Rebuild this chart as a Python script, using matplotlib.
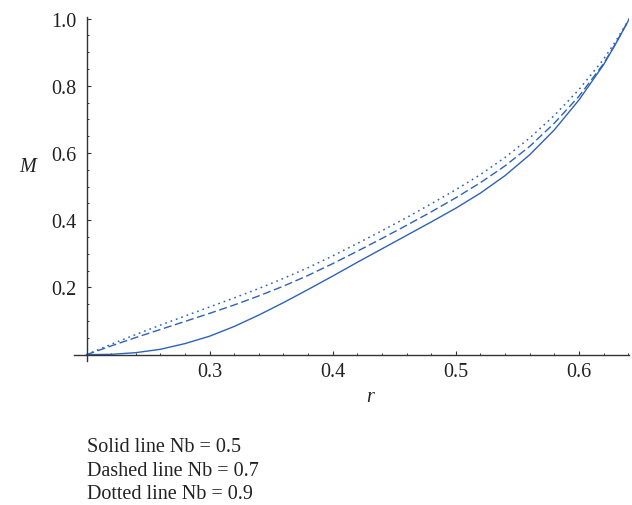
import numpy as np
import matplotlib
matplotlib.use("Agg")
import matplotlib.pyplot as plt

# r values along the curves
r = [0.20, 0.22, 0.24, 0.26, 0.28, 0.30, 0.32, 0.34, 0.36, 0.38, 0.40,
     0.42, 0.44, 0.46, 0.48, 0.50, 0.52, 0.54, 0.56, 0.58, 0.60, 0.62, 0.63, 0.641]

# Nb = 0.5 (solid)
m_solid = [0.000, 0.001, 0.006, 0.016, 0.033, 0.055, 0.084, 0.118, 0.155, 0.194, 0.234,
           0.275, 0.315, 0.355, 0.395, 0.436, 0.481, 0.533, 0.595, 0.669, 0.758, 0.863, 0.926, 1.000]
# Nb = 0.7 (dashed)
m_dashed = [0.000, 0.026, 0.051, 0.075, 0.099, 0.123, 0.148, 0.175, 0.204, 0.236, 0.271,
            0.308, 0.346, 0.385, 0.425, 0.467, 0.512, 0.562, 0.620, 0.689, 0.769, 0.866, 0.927, 1.000]
# Nb = 0.9 (dotted)
m_dotted = [0.000, 0.031, 0.060, 0.088, 0.115, 0.142, 0.169, 0.197, 0.227, 0.259, 0.294,
            0.331, 0.369, 0.408, 0.449, 0.491, 0.536, 0.587, 0.645, 0.712, 0.789, 0.879, 0.934, 1.000]

xticks = [0.3, 0.4, 0.5, 0.6]
yticks = [0.2, 0.4, 0.6, 0.8, 1.0]
notes = ["Solid line Nb = 0.5", "Dashed line Nb = 0.7", "Dotted line Nb = 0.9"]

plt.rcParams['font.family'] = ['Liberation Serif', 'DejaVu Serif']

fig = plt.figure(figsize=(6.32, 5.06), dpi=100)
ax = fig.add_axes([0.1174, 0.2838, 0.8785, 0.6806])

blue = '#2d62b8'
ax.plot(r, m_solid, color=blue, lw=1.0)
ax.plot(r, m_dashed, color=blue, lw=1.0, dashes=(5.8, 2.6))
ax.plot(r, m_dotted, color=blue, lw=1.1, dashes=(1.1, 2.6))

ax.set_xlim(0.19, 0.641)
ax.set_ylim(-0.02, 1.005)

for s in ['top', 'right']:
    ax.spines[s].set_visible(False)
ax.spines['left'].set_position(('data', 0.2))
ax.spines['bottom'].set_position(('data', 0))
for s in ['left', 'bottom']:
    ax.spines[s].set_color('#333333')
    ax.spines[s].set_linewidth(1.0)

ax.set_xticks(xticks)
ax.set_xticklabels([f"{t:.1f}" for t in xticks])
ax.set_yticks(yticks)
ax.set_yticklabels([f"{t:.1f}" for t in yticks])
ax.set_xticks([v for v in np.arange(0.22, 0.641, 0.02) if min(abs(v - t) for t in xticks) > 1e-6], minor=True)
ax.set_yticks([v for v in np.arange(0.05, 1.001, 0.05) if min(abs(v - t) for t in yticks) > 1e-6], minor=True)
ax.tick_params(which='major', direction='in', length=3.0, width=0.8, color='#333333',
               labelsize=14.5, labelcolor='#222222')
ax.tick_params(which='minor', direction='in', length=1.6, width=0.7, color='#333333')
ax.tick_params(axis='x', which='major', pad=5)
ax.tick_params(axis='y', which='major', pad=7)

fig.text(28 / 632, 1 - 168 / 506, 'M', style='italic', fontsize=14.5, ha='center', va='center', color='#222222')
fig.text(370 / 632, 1 - 398 / 506, 'r', style='italic', fontsize=14.5, ha='center', va='center', color='#222222')

for i, t in enumerate(notes):
    fig.text(87 / 632, 1 - (448 + 23.5 * i) / 506, t, fontsize=14.5, ha='left', va='center', color='#222222')

fig.savefig('out.png', dpi=100)
